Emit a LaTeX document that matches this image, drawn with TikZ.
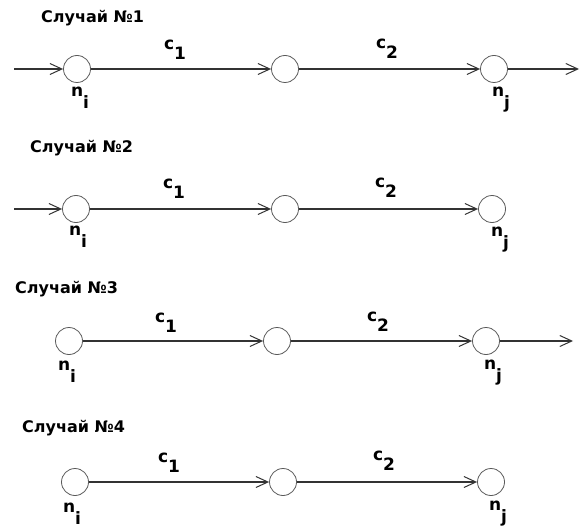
\documentclass[tikz,border=0pt]{standalone}
\usepackage{fontspec}
\setmainfont{DejaVu Sans}
\usetikzlibrary{arrows.meta}
\newcommand{\sublab}[3]{\textbf{#1}\raisebox{-#3pt}{\textbf{#2}}}
\begin{document}
\begin{tikzpicture}[x=1pt,y=-1pt,
  vert/.style={circle,draw=black!65,line width=0.8pt,minimum size=27pt,inner sep=0pt},
  conn/.style={draw=black!80,line width=1.2pt,-{Straight Barb[length=12pt,width=11pt,line width=1pt]}},
  titl/.style={anchor=base west,inner sep=0pt,font=\fontsize{16}{18}\selectfont\bfseries},
  elab/.style={inner sep=0pt,font=\fontsize{17}{19}\selectfont},
  nlab/.style={inner sep=0pt,font=\fontsize{17}{19}\selectfont}]
\useasboundingbox (0,0) rectangle (585,529);
% ---------- Case 1
\node[titl] (t1) at (41,23) {Случай №1};
\node[vert] (a1) at (77,69) {};
\node[vert] (b1) at (285,69) {};
\node[vert] (c1) at (494,69) {};
\coordinate (s1) at (14,69);
\coordinate (e1) at (579,69);
\draw[conn] (s1) -- (a1);
\draw[conn] (a1) -- (b1);
\draw[conn] (b1) -- (c1);
\draw[conn] (c1) -- (e1);
\node[elab] (l11) at (175,50) {\sublab{c}{1}{10}};
\node[elab] (l12) at (387,49) {\sublab{c}{2}{10}};
\node[nlab] (ni1) at (80,98) {\sublab{n}{i}{12}};
\node[nlab] (nj1) at (501,100) {\sublab{n}{j}{12}};
% ---------- Case 2
\node[titl] (t2) at (30,153) {Случай №2};
\node[vert] (a2) at (76,209) {};
\node[vert] (b2) at (285,209) {};
\node[vert] (c2) at (492,209) {};
\coordinate (s2) at (14,209);
\draw[conn] (s2) -- (a2);
\draw[conn] (a2) -- (b2);
\draw[conn] (b2) -- (c2);
\node[elab] (l21) at (174,189) {\sublab{c}{1}{10}};
\node[elab] (l22) at (386,188) {\sublab{c}{2}{10}};
\node[nlab] (ni2) at (78,237) {\sublab{n}{i}{12}};
\node[nlab] (nj2) at (500,240) {\sublab{n}{j}{12}};
% ---------- Case 3
\node[titl] (t3) at (15,293) {Случай №3};
\node[vert] (a3) at (69,341) {};
\node[vert] (b3) at (277,341) {};
\node[vert] (c3) at (486,341) {};
\coordinate (e3) at (573,341);
\draw[conn] (a3) -- (b3);
\draw[conn] (b3) -- (c3);
\draw[conn] (c3) -- (e3);
\node[elab] (l31) at (166,323) {\sublab{c}{1}{10}};
\node[elab] (l32) at (378,322) {\sublab{c}{2}{10}};
\node[nlab] (ni3) at (67,372) {\sublab{n}{i}{12}};
\node[nlab] (nj3) at (493,373) {\sublab{n}{j}{12}};
% ---------- Case 4
\node[titl] (t4) at (22,432) {Случай №4};
\node[vert] (a4) at (75,482) {};
\node[vert] (b4) at (283,482) {};
\node[vert] (c4) at (491,482) {};
\draw[conn] (a4) -- (b4);
\draw[conn] (b4) -- (c4);
\node[elab] (l41) at (169,463) {\sublab{c}{1}{10}};
\node[elab] (l42) at (384,461) {\sublab{c}{2}{10}};
\node[nlab] (ni4) at (72,514) {\sublab{n}{i}{12}};
\node[nlab] (nj4) at (498,514) {\sublab{n}{j}{12}};
\end{tikzpicture}
\end{document}
